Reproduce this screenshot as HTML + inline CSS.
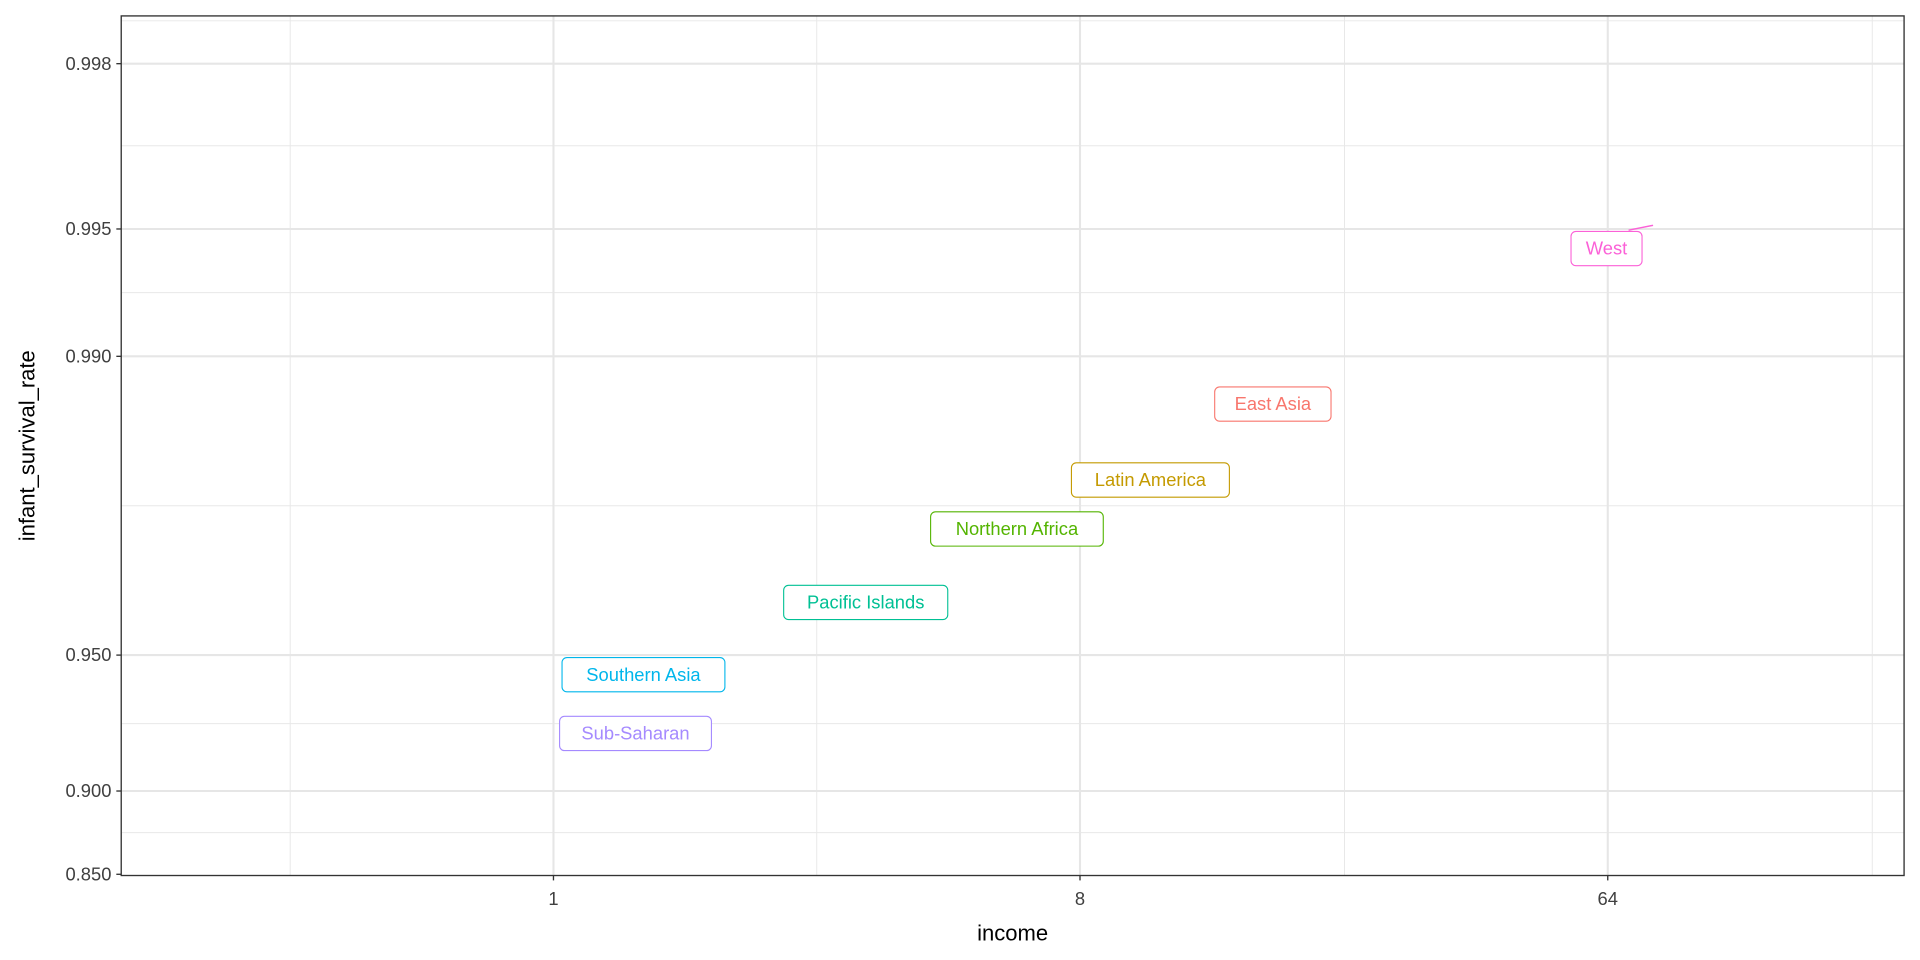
<!DOCTYPE html>
<html><head><meta charset="utf-8"><style>html,body{margin:0;padding:0;background:#fff}svg{display:block}</style></head>
<body>
<svg width="1920" height="960" viewBox="0 0 1568 784" xmlns="http://www.w3.org/2000/svg" font-family="Liberation Sans, Arial, sans-serif">
<rect width="1568" height="784" fill="#fff"/>
<g stroke="#e8e8e8" stroke-width="0.8">
<line x1="99" x2="1555" y1="17" y2="17"/><line x1="99" x2="1555" y1="119" y2="119"/><line x1="99" x2="1555" y1="239" y2="239"/><line x1="99" x2="1555" y1="413" y2="413"/><line x1="99" x2="1555" y1="591" y2="591"/><line x1="99" x2="1555" y1="680" y2="680"/>
<line y1="13" y2="715" x1="237" x2="237"/><line y1="13" y2="715" x1="667" x2="667"/><line y1="13" y2="715" x1="1098" x2="1098"/><line y1="13" y2="715" x1="1529" x2="1529"/>
</g>
<g stroke="#e6e6e6" stroke-width="1.7">
<line x1="99" x2="1555" y1="52" y2="52"/><line x1="99" x2="1555" y1="187" y2="187"/><line x1="99" x2="1555" y1="291" y2="291"/><line x1="99" x2="1555" y1="535" y2="535"/><line x1="99" x2="1555" y1="646" y2="646"/>
<line y1="13" y2="715" x1="452" x2="452"/><line y1="13" y2="715" x1="882" x2="882"/><line y1="13" y2="715" x1="1313" x2="1313"/>
</g>
<rect x="99" y="13" width="1456" height="702" fill="none" stroke="#333" stroke-width="1.1"/>
<g stroke="#333" stroke-width="1.1">
<line x1="95" x2="99" y1="52" y2="52"/><line x1="95" x2="99" y1="187" y2="187"/><line x1="95" x2="99" y1="291" y2="291"/><line x1="95" x2="99" y1="535" y2="535"/><line x1="95" x2="99" y1="646" y2="646"/><line x1="95" x2="99" y1="714" y2="714"/>
<line y1="715" y2="719" x1="452" x2="452"/><line y1="715" y2="719" x1="882" x2="882"/><line y1="715" y2="719" x1="1313" x2="1313"/>
</g>
<g font-size="15" fill="#404040" text-anchor="end">
<text x="91" y="57">0.998</text><text x="91" y="192">0.995</text><text x="91" y="296">0.990</text><text x="91" y="540">0.950</text><text x="91" y="651">0.900</text><text x="91" y="719">0.850</text>
</g>
<g font-size="15" fill="#404040" text-anchor="middle">
<text x="452" y="739">1</text><text x="882" y="739">8</text><text x="1313" y="739">64</text>
</g>
<text x="827" y="768" font-size="18" text-anchor="middle" fill="#000">income</text>
<text transform="translate(28,364) rotate(-90)" font-size="18" text-anchor="middle" fill="#000">infant_survival_rate</text>
<line x1="1330" y1="188" x2="1350" y2="184" stroke="#FB61D7" stroke-width="1.2"/>
<g font-size="15" text-anchor="middle" fill="#fff" stroke-width="0.9">
<rect x="1283" y="189" width="58" height="28" rx="4" stroke="#FB61D7"/><text x="1312" y="208" fill="#FB61D7" stroke="none">West</text>
<rect x="992" y="316" width="95" height="28" rx="4" stroke="#F8766D"/><text x="1039.5" y="335" fill="#F8766D" stroke="none">East Asia</text>
<rect x="875" y="378" width="129" height="28" rx="4" stroke="#C49A00"/><text x="939.5" y="397" fill="#C49A00" stroke="none">Latin America</text>
<rect x="760" y="418" width="141" height="28" rx="4" stroke="#53B400"/><text x="830.5" y="437" fill="#53B400" stroke="none">Northern Africa</text>
<rect x="640" y="478" width="134" height="28" rx="4" stroke="#00C094"/><text x="707" y="497" fill="#00C094" stroke="none">Pacific Islands</text>
<rect x="459" y="537" width="133" height="28" rx="4" stroke="#00B6EB"/><text x="525.5" y="556" fill="#00B6EB" stroke="none">Southern Asia</text>
<rect x="457" y="585" width="124" height="28" rx="4" stroke="#A58AFF"/><text x="519" y="604" fill="#A58AFF" stroke="none">Sub-Saharan</text>
</g>
</svg>
</body></html>
